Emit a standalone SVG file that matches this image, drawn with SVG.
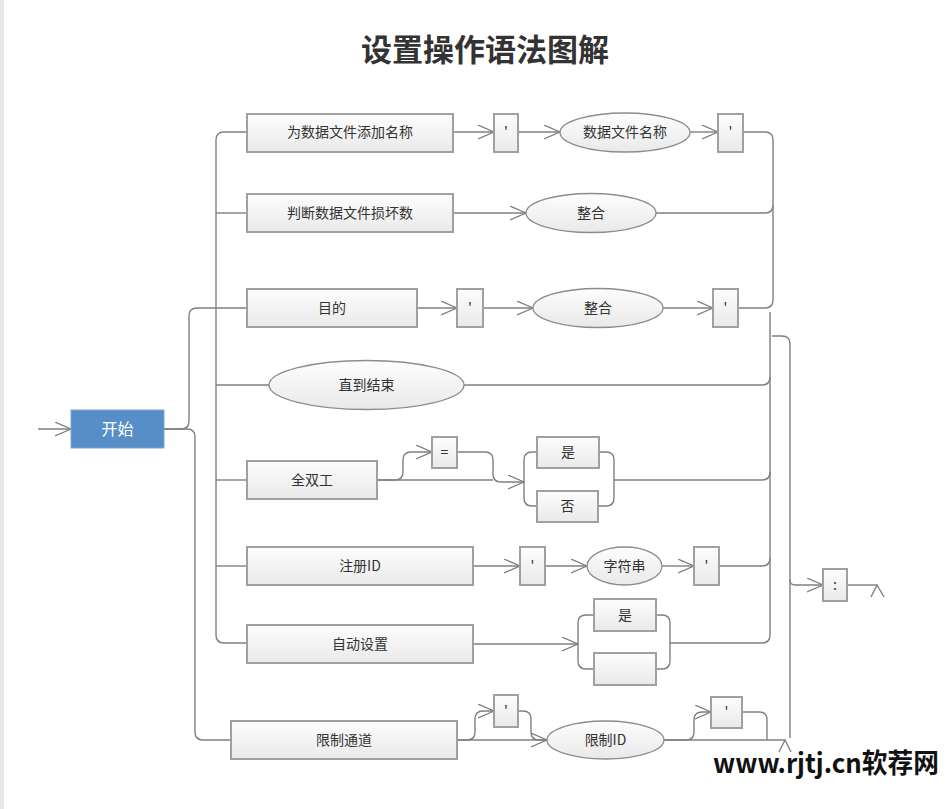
<svg xmlns="http://www.w3.org/2000/svg" width="948" height="809" viewBox="0 0 948 809">
<defs>
<linearGradient id="g" x1="0" y1="0" x2="0" y2="1">
<stop offset="0" stop-color="#fdfdfd"/>
<stop offset="1" stop-color="#e9e9e9"/>
</linearGradient>
<marker id="a" markerUnits="userSpaceOnUse" markerWidth="18" markerHeight="16" refX="16" refY="7" orient="auto">
<path d="M0,0 L16,7 L0,14" fill="none" stroke="#7a7a7a" stroke-width="1.2"/>
</marker>
</defs>
<style>
.b{fill:url(#g);stroke:#a0a0a0;stroke-width:2}
.e{fill:url(#g);stroke:#8c8c8c;stroke-width:1.3}
.t{font-family:"Noto Sans CJK SC","Liberation Sans",sans-serif;font-size:14px;fill:#333;text-anchor:middle}
.c path{fill:none;stroke:#808080;stroke-width:1.4}
.c path.m{marker-end:url(#a)}
.r{fill:none;stroke:#a8a8a8;stroke-width:2}
</style>
<rect x="0" y="0" width="4" height="809" fill="#e6e6e6"/>
<text x="485" y="61" font-family="'Noto Sans CJK SC','Liberation Sans',sans-serif" font-size="31" font-weight="bold" fill="#333" text-anchor="middle">设置操作语法图解</text>

<g class="c" id="connectors">
<path class="m" d="M38,429 H71"/>
<path d="M164,429 H181 Q189,429 189,421 V316 Q189,308 197,308 H247"/>
<path d="M164,429 H187 Q195,429 195,437 V732 Q195,740 203,740 H231"/>
<path d="M247,132 H224 Q216,132 216,140 V635 Q216,643 224,643 H247"/>
<path d="M216,213 H247"/>
<path d="M216,385 H269"/>
<path d="M216,480 H247"/>
<path d="M216,566 H247"/>
<path class="m" d="M453,132 H494"/>
<path class="m" d="M518,132 H560"/>
<path class="m" d="M690,132 H718"/>
<path d="M743,132 H765 Q773,132 773,140 V300 Q773,308 765,308 H738"/>
<path class="m" d="M453,213 H526"/>
<path d="M656,213 H765 Q773,213 773,205"/>
<path class="m" d="M417,308 H457"/>
<path class="m" d="M483,308 H533"/>
<path class="m" d="M663,308 H713"/>
<path d="M770,312 V635 Q770,643 762,643 H670"/>
<path d="M464,385 H762 Q770,385 770,377"/>
<path d="M614,480 H762 Q770,480 770,472"/>
<path d="M719,566 H762 Q770,566 770,558"/>
<path d="M772,336 H782 Q790,336 790,344 V738"/>
<path class="m" d="M790,580 Q790,585 795,585 H823"/>
<path d="M847,585 H877"/>
<path d="M871,597 L877,585 L884,597"/>
<path class="m" d="M377,480 H395 Q403,480 403,472 V460 Q403,452 411,452 H432"/>
<path d="M377,480 H493"/>
<path class="m" d="M457,452 H485 Q493,452 493,460 V474 Q493,482 501,482 H524"/>
<path d="M537,452 H532 Q524,452 524,460 V498 Q524,506 532,506 H537"/>
<path d="M599,452 H606 Q614,452 614,460 V498 Q614,506 606,506 H598"/>
<path class="m" d="M473,566 H520"/>
<path class="m" d="M545,566 H587"/>
<path class="m" d="M662,566 H694"/>
<path class="m" d="M473,644 H578"/>
<path d="M594,615 H586 Q578,615 578,623 V661 Q578,669 586,669 H594"/>
<path d="M656,615 H662 Q670,615 670,623 V661 Q670,669 662,669 H656"/>
<path class="m" d="M457,740 H547"/>
<path class="m" d="M457,740 H467 Q475,740 475,732 V719 Q475,711 483,711 H494"/>
<path d="M518,711 H523 Q531,711 531,719 V732 Q531,740 539,740 H545"/>
<path d="M664,740 H785"/>
<path class="m" d="M664,740 H686 Q694,740 694,732 V720 Q694,712 702,712 H711"/>
<path d="M742,712 H759 Q767,712 767,720 V740"/>
<path d="M779,752 L785,740 L791,752"/>
</g>

<g id="start">
<rect x="71" y="410" width="93" height="38" fill="#578ec8" stroke="#7aa7d6" stroke-width="1"/>
<text x="117.5" y="435" font-family="'Noto Sans CJK SC','Liberation Sans',sans-serif" font-size="16" fill="#fff" text-anchor="middle">开始</text>
</g>

<g id="n1"><rect class="b" x="247" y="114" width="206" height="38"/><text class="t" x="350" y="137">为数据文件添加名称</text></g>
<g id="n1q1"><rect class="b" x="494" y="114" width="24" height="38"/><text class="t" x="506" y="137">'</text></g>
<g id="n1e"><ellipse class="e" cx="625" cy="132.5" rx="65" ry="19.5"/><text class="t" x="625" y="137">数据文件名称</text></g>
<g id="n1q2"><rect class="b" x="718" y="114" width="25" height="38"/><text class="t" x="730.5" y="137">'</text></g>

<g id="n2"><rect class="b" x="247" y="194" width="206" height="38"/><text class="t" x="350" y="218">判断数据文件损坏数</text></g>
<g id="n2e"><ellipse class="e" cx="591" cy="213" rx="65" ry="19.5"/><text class="t" x="591" y="218">整合</text></g>

<g id="n3"><rect class="b" x="247" y="289" width="170" height="38"/><text class="t" x="332" y="313">目的</text></g>
<g id="n3q1"><rect class="b" x="457" y="289" width="26" height="38"/><text class="t" x="470" y="313">'</text></g>
<g id="n3e"><ellipse class="e" cx="598" cy="308" rx="65" ry="19.5"/><text class="t" x="598" y="313">整合</text></g>
<g id="n3q2"><rect class="b" x="713" y="289" width="25" height="38"/><text class="t" x="725.5" y="313">'</text></g>

<g id="n4e"><ellipse class="e" cx="366.5" cy="385" rx="97.5" ry="24.5"/><text class="t" x="366.5" y="390">直到结束</text></g>

<g id="n5"><rect class="b" x="247" y="461" width="130" height="38"/><text class="t" x="312" y="485">全双工</text></g>
<g id="n5eq"><rect class="b" x="432" y="437" width="25" height="31"/><text class="t" x="444.5" y="457">=</text></g>
<g id="n5y"><rect class="b" x="537" y="437" width="62" height="31"/><text class="t" x="568" y="457">是</text></g>
<g id="n5n"><rect class="b" x="537" y="491" width="61" height="31"/><text class="t" x="567.5" y="511">否</text></g>

<g id="n6"><rect class="b" x="247" y="547" width="226" height="38"/><text class="t" x="360" y="571">注册ID</text></g>
<g id="n6q1"><rect class="b" x="520" y="547" width="25" height="38"/><text class="t" x="532.5" y="571">'</text></g>
<g id="n6e"><ellipse class="e" cx="624.5" cy="566" rx="37.5" ry="19"/><text class="t" x="624.5" y="571">字符串</text></g>
<g id="n6q2"><rect class="b" x="694" y="547" width="25" height="38"/><text class="t" x="706.5" y="571">'</text></g>

<g id="n7"><rect class="b" x="247" y="625" width="226" height="38"/><text class="t" x="360" y="649">自动设置</text></g>
<g id="n7y"><rect class="b" x="594" y="599" width="62" height="32"/><text class="t" x="625" y="620">是</text></g>
<g id="n7e"><rect class="b" x="594" y="653" width="62" height="32"/></g>

<g id="n8"><rect class="b" x="231" y="721" width="226" height="38"/><text class="t" x="344" y="745">限制通道</text></g>
<g id="n8q1"><rect class="b" x="494" y="695" width="24" height="32"/><text class="t" x="506" y="716">'</text></g>
<g id="n8e"><ellipse class="e" cx="605.5" cy="740" rx="58.5" ry="19"/><text class="t" x="605.5" y="745">限制ID</text></g>
<g id="n8q2"><rect class="b" x="711" y="697" width="31" height="31"/><text class="t" x="726.5" y="717">'</text></g>

<g id="colon"><rect class="b" x="823" y="569" width="24" height="32"/><text class="t" x="835" y="590">:</text></g>

<text x="713" y="773" font-family="'Noto Sans CJK SC','Liberation Sans',sans-serif" font-size="27" font-weight="bold" fill="#111" textLength="226" lengthAdjust="spacingAndGlyphs">www.rjtj.cn软荐网</text>
</svg>
